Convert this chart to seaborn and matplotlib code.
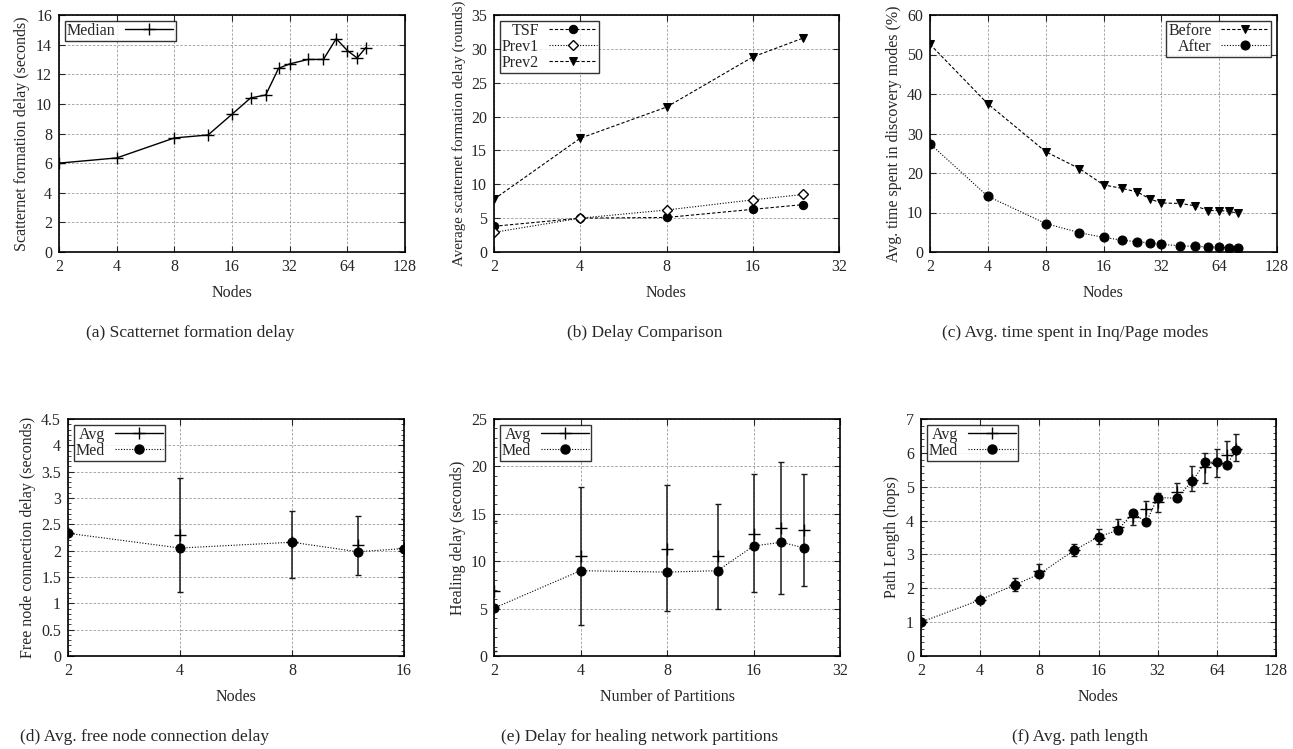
import numpy as np
import seaborn as sns
import matplotlib
matplotlib.use("Agg")
import matplotlib.pyplot as plt
from matplotlib.ticker import FixedLocator, NullLocator, AutoMinorLocator, FuncFormatter
from matplotlib.lines import Line2D

# (a) scatternet formation delay
nodes_a = [2, 4, 8, 12, 16, 20, 24, 28, 32, 40, 48, 56, 64, 72, 80]
median_a = [6.0, 6.35, 7.7, 7.9, 9.3, 10.4, 10.6, 12.4, 12.7, 13.0, 13.0, 14.4, 13.6, 13.1, 13.8]

# (b) delay comparison
nodes_b = [2, 4, 8, 16, 24]
tsf_b = [3.8, 5.0, 5.1, 6.3, 7.0]
prev1_b = [2.9, 5.0, 6.2, 7.7, 8.5]
prev2_b = [7.8, 16.8, 21.4, 28.8, 31.6]

# (c) time spent in discovery modes
nodes_c = [2, 4, 8, 12, 16, 20, 24, 28, 32, 40, 48, 56, 64, 72, 80]
before_c = [52.6, 37.5, 25.4, 21.1, 17.0, 16.1, 15.2, 13.4, 12.4, 12.3, 11.7, 10.5, 10.5, 10.3, 9.8]
after_c = [27.4, 14.1, 7.2, 4.9, 3.7, 3.0, 2.6, 2.3, 1.9, 1.6, 1.4, 1.3, 1.2, 1.1, 1.0]

# (d) free node connection delay
nodes_d = [2, 4, 8, 12, 16]
avg_d = [2.33, 2.30, 2.16, 2.10, 2.05]
lo_d = [2.33, 1.22, 1.48, 1.54, 1.50]
hi_d = [2.33, 3.38, 2.75, 2.65, 2.60]
med_d = [2.33, 2.05, 2.16, 1.98, 2.04]

# (e) healing delay
parts_e = [2, 4, 8, 12, 16, 20, 24]
avg_e = [6.9, 10.5, 11.3, 10.5, 12.9, 13.5, 13.3]
lo_e = [0.5, 3.3, 4.7, 5.0, 6.7, 6.5, 7.4]
hi_e = [14.2, 17.8, 18.0, 16.0, 19.2, 20.5, 19.2]
med_e = [5.05, 9.0, 8.85, 9.0, 11.6, 12.0, 11.4]

# (f) path length
nodes_f = [2, 4, 6, 8, 12, 16, 20, 24, 28, 32, 40, 48, 56, 64, 72, 80]
avg_f = [1.0, 1.65, 2.1, 2.5, 3.12, 3.5, 3.82, 4.1, 4.33, 4.55, 4.85, 5.2, 5.58, 5.7, 5.95, 6.1]
lo_f = [1.0, 1.58, 1.92, 2.35, 2.95, 3.3, 3.6, 3.88, 4.06, 4.25, 4.6, 4.88, 5.12, 5.28, 5.65, 5.76]
hi_f = [1.0, 1.72, 2.29, 2.71, 3.32, 3.76, 4.06, 4.3, 4.59, 4.81, 5.12, 5.62, 6.0, 6.1, 6.35, 6.55]
med_f = [1.0, 1.66, 2.1, 2.42, 3.12, 3.52, 3.71, 4.23, 3.95, 4.68, 4.66, 5.17, 5.72, 5.72, 5.65, 6.08]

captions = ["(a) Scatternet formation delay", "(b) Delay Comparison",
            "(c) Avg. time spent in Inq/Page modes", "(d) Avg. free node connection delay",
            "(e) Delay for healing network partitions", "(f) Avg. path length"]

sns.set_theme(style="ticks")
plt.rcParams["font.family"] = ["Liberation Serif", "DejaVu Serif"]
plt.rcParams["font.size"] = 11.5

FS = 11.5
fig = plt.figure(figsize=(12.93, 7.49), dpi=100)
W, H = 1293, 749
boxes = [(59, 405, 15, 252), (494, 839, 15, 252), (930, 1277, 15, 252),
         (68, 404, 419, 656), (494, 840, 419, 656), (921, 1276, 419, 656)]
axes = [fig.add_axes([l / W, 1 - b / H, (r - l) / W, (b - t) / H]) for l, r, t, b in boxes]
k = "black"


def style(ax, xmax, ymax, ystep, ylabel, xlabel="Nodes", minor=False, yfs=FS):
    ax.set_xscale("log", base=2)
    ax.set_xlim(2, xmax)
    ax.set_ylim(0, ymax)
    xt = [2 ** i for i in range(1, int(np.log2(xmax)) + 1)]
    ax.xaxis.set_major_locator(FixedLocator(xt))
    ax.xaxis.set_minor_locator(NullLocator())
    ax.xaxis.set_major_formatter(FuncFormatter(lambda v, p: "%d" % v))
    ax.set_yticks(np.arange(0, ymax + ystep / 2, ystep))
    ax.yaxis.set_major_formatter(FuncFormatter(lambda v, p: ("%g" % v)))
    if minor:
        ax.yaxis.set_minor_locator(AutoMinorLocator(5))
    ax.grid(True, which="major", color="#9a9a9a", linestyle=(0, (3, 2)), linewidth=0.6)
    ax.tick_params(which="both", direction="in", top=True, right=True, labelsize=FS, pad=5)
    ax.tick_params(which="major", length=4, width=0.8)
    ax.tick_params(which="minor", length=2, width=0.6)
    for s in ax.spines.values():
        s.set_linewidth(1.2)
        s.set_color(k)
    ax.set_xlabel(xlabel, fontsize=FS, labelpad=7)
    ax.set_ylabel(ylabel, fontsize=yfs, labelpad=4)


def legend(ax, loc, handles=None, labels=None):
    kw = dict(loc=loc, markerfirst=False, frameon=True, fancybox=False, fontsize=FS,
              borderaxespad=0.35, handlelength=3.0, borderpad=0.15, labelspacing=0.0,
              handletextpad=0.6)
    if handles is None:
        lg = ax.legend(**kw)
    else:
        lg = ax.legend(handles, labels, **kw)
    lg.get_frame().set_edgecolor(k)
    lg.get_frame().set_linewidth(1.0)
    return lg


dash = (0, (3, 1.8))
dot = (0, (1, 1.5))

# (a)
ax = axes[0]
sns.lineplot(x=nodes_a, y=median_a, ax=ax, color=k, marker="+", markersize=9, mew=1.0,
             mec=k, linewidth=1.0, label="Median")
style(ax, 128, 16, 2, "Scatternet formation delay (seconds)")
legend(ax, "upper left")

# (b)
ax = axes[1]
sns.lineplot(x=nodes_b, y=tsf_b, ax=ax, color=k, marker="o", markersize=6, mec=k,
             linestyle=dash, linewidth=0.8, label="TSF")
sns.lineplot(x=nodes_b, y=prev1_b, ax=ax, color=k, marker="D", markersize=5, mfc="white", mec=k,
             mew=1.0, linestyle=dot, linewidth=0.8, label="Prev1")
sns.lineplot(x=nodes_b, y=prev2_b, ax=ax, color=k, marker="v", markersize=6, mec=k,
             linestyle=dash, linewidth=0.8, label="Prev2")
style(ax, 32, 35, 5, "Average scatternet formation delay (rounds)", yfs=10.8)
legend(ax, "upper left")

# (c)
ax = axes[2]
sns.lineplot(x=nodes_c, y=before_c, ax=ax, color=k, marker="v", markersize=6, mec=k,
             linestyle=dash, linewidth=0.8, label="Before")
sns.lineplot(x=nodes_c, y=after_c, ax=ax, color=k, marker="o", markersize=6.5, mec=k,
             linestyle=dot, linewidth=0.8, label="After")
style(ax, 128, 60, 10, "Avg. time spent in discovery modes (%)")
legend(ax, "upper right")


def err_panel(ax, x, avg, lo, hi, med):
    yerr = [np.array(avg) - np.array(lo), np.array(hi) - np.array(avg)]
    ax.errorbar(x, avg, yerr=yerr, fmt="+", color=k, ecolor="#1a1a1a", elinewidth=1.1,
                capsize=2.5, capthick=1.0, markersize=8, mew=1.0, zorder=3)
    sns.lineplot(x=x, y=med, ax=ax, color=k, marker="o", markersize=6.5, mec=k,
                 linestyle=dot, linewidth=0.8, legend=False, zorder=4)
    h = [Line2D([], [], color=k, marker="+", markersize=9, linewidth=1.0),
         Line2D([], [], color=k, marker="o", markersize=6.5, linestyle=dot, linewidth=0.8)]
    legend(ax, "upper left", h, ["Avg", "Med"])


ax = axes[3]
err_panel(ax, nodes_d, avg_d, lo_d, hi_d, med_d)
style(ax, 16, 4.5, 0.5, "Free node connection delay (seconds)", minor=True)

ax = axes[4]
err_panel(ax, parts_e, avg_e, lo_e, hi_e, med_e)
style(ax, 32, 25, 5, "Healing delay (seconds)", xlabel="Number of Partitions", minor=True)

ax = axes[5]
err_panel(ax, nodes_f, avg_f, lo_f, hi_f, med_f)
style(ax, 128, 7, 1, "Path Length (hops)", minor=True)

cx = [190, 645, 1075, 145, 640, 1080]
cy = [333, 333, 333, 737, 737, 737]
for c, x, y in zip(captions, cx, cy):
    fig.text(x / W, 1 - y / H, c, ha="center", va="center", fontsize=12.5)

fig.savefig("out.png", dpi=100)
